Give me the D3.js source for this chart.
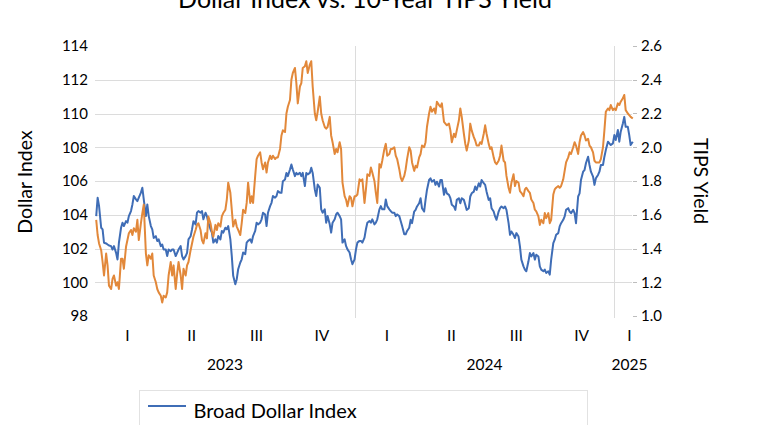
<!DOCTYPE html>
<html>
<head>
<meta charset="utf-8">
<script src="https://cdn.jsdelivr.net/npm/d3@7"></script>
<style>
  body { margin: 0; background: #fff; }
  svg { display: block; }
  text { font-family: Lato, "Open Sans", sans-serif; fill: #000; }
</style>
</head>
<body>
<svg id="chart" width="780" height="425"></svg>
<script>
// ---------------- data ----------------
const chartTitle = "Dollar Index vs. 10-Year TIPS Yield";
const leftAxisTitle = "Dollar Index";
const rightAxisTitle = "TIPS Yield";
const seriesNames = ["Broad Dollar Index", "10-Year TIPS Yield (right)"];

// samples: Mon / Wed / Fri from first to last sample date
const firstSample = "2023-01-02";
const lastSample = "2025-01-27";
const sampleWeekdays = [1, 3, 5];

const dollarIndex = [
  103.92,105.01,104.52,103.23,103.13,102.34,102.30,102.24,102.18,102.14,
  101.94,102.14,101.74,101.35,102.34,103.23,103.53,103.33,103.62,103.53,
  103.92,104.22,104.61,105.11,104.91,104.81,105.01,105.31,105.60,104.91,
  103.92,104.61,103.92,103.33,103.13,102.63,102.73,102.44,102.54,102.14,
  102.24,101.94,101.94,101.55,101.94,101.84,101.94,101.94,101.55,101.74,
  101.94,102.14,101.55,101.35,101.55,101.74,102.54,102.73,103.13,103.62,
  103.43,104.12,
  104.22,104.12,104.22,103.73,104.12,103.92,103.53,103.14,102.94,102.35,
  102.54,102.35,102.74,102.54,103.04,102.94,103.23,103.14,103.33,102.54,
  101.56,100.38,99.88,100.18,100.77,101.17,101.36,101.76,101.66,102.35,
  102.45,102.54,102.35,102.74,103.04,103.53,103.43,103.53,103.73,104.12,
  104.02,103.33,104.12,104.51,104.71,105.11,105.01,105.11,105.40,105.30,
  105.30,105.99,106.09,106.48,106.29,106.68,106.98,106.68,106.29,106.48,
  106.39,106.48,106.29,106.48,
  105.70,106.48,106.39,106.48,106.78,106.48,105.50,105.11,105.79,105.60,
  104.32,104.12,104.32,103.53,103.92,103.43,102.94,103.53,103.73,104.02,
  104.12,103.92,103.73,102.35,102.54,102.15,101.95,101.76,101.36,101.07,
  101.36,101.95,102.35,102.45,102.45,102.35,102.64,103.14,103.53,103.63,
  103.53,103.73,103.43,103.53,103.73,104.32,104.51,104.32,104.32,104.91,
  104.51,104.32,104.22,104.12,104.12,103.92,104.02,103.92,103.63,103.33,
  102.84,102.84,103.04,103.23,
  103.70,103.50,104.19,104.29,104.49,104.68,104.98,104.39,104.19,104.88,
  105.47,106.06,106.16,105.96,106.06,105.77,105.96,105.67,106.06,106.06,
  105.18,105.57,105.27,105.18,104.98,104.59,104.49,104.29,104.88,104.98,
  104.68,104.98,104.88,104.59,104.29,104.39,105.08,105.27,105.37,105.67,
  105.47,105.87,105.67,106.06,105.87,105.77,105.37,104.88,104.98,104.39,
  104.19,103.90,103.70,104.19,104.39,104.49,104.39,104.49,104.29,103.50,
  102.81,103.01,102.81,102.62,
  102.91,102.71,102.12,101.34,100.94,100.75,100.65,101.24,101.73,101.53,
  101.73,101.34,101.63,101.53,100.94,100.75,100.65,100.75,100.55,100.65,
  100.45,101.34,102.32,102.52,102.81,102.91,103.31,103.50,103.70,103.90,
  104.29,104.39,104.19,104.09,104.29,104.09,103.50,105.08,105.27,106.06,
  106.55,106.65,107.05,107.44,106.95,106.55,106.26,105.77,106.16,106.36,
  106.55,106.95,106.95,107.44,107.83,108.33,108.23,108.13,108.23,108.72,
  108.43,109.02,108.33,108.92,109.41,109.80,109.21,109.21,108.72,108.13,
  108.33
];

const tipsYield = [
  1.57,1.48,1.43,1.39,1.32,1.24,1.37,1.30,1.18,1.16,
  1.22,1.24,1.18,1.20,1.16,1.34,1.34,1.28,1.41,1.45,
  1.49,1.51,1.48,1.52,1.50,1.57,1.45,1.55,1.61,1.66,
  1.37,1.30,1.36,1.34,1.37,1.24,1.20,1.16,1.14,1.12,
  1.08,1.12,1.11,1.14,1.24,1.32,1.24,1.30,1.16,1.25,
  1.32,1.24,1.16,1.28,1.24,1.30,1.32,1.39,1.43,1.47,
  1.51,1.54,
  1.55,1.51,1.45,1.43,1.49,1.46,1.59,1.55,1.50,1.47,
  1.54,1.51,1.55,1.53,1.59,1.61,1.63,1.69,1.79,1.73,
  1.63,1.53,1.57,1.53,1.51,1.48,1.55,1.63,1.61,1.67,
  1.79,1.67,1.71,1.67,1.83,1.93,1.95,1.97,1.91,1.87,
  1.91,1.85,1.91,1.95,1.93,1.95,1.93,1.94,1.94,1.99,
  2.07,2.10,2.09,2.20,2.24,2.28,2.40,2.44,2.47,2.38,
  2.26,2.36,2.38,2.47,
  2.48,2.51,2.44,2.49,2.51,2.36,2.20,2.16,2.21,2.30,
  2.20,2.16,2.12,2.11,2.12,2.18,2.07,2.03,1.96,1.99,
  1.97,2.03,1.99,1.79,1.71,1.69,1.65,1.71,1.70,1.65,
  1.71,1.71,1.72,1.81,1.80,1.81,1.67,1.75,1.84,1.83,
  1.88,1.85,1.80,1.73,1.67,1.90,1.88,1.92,1.99,2.02,
  1.95,1.96,1.99,1.99,2.00,1.95,1.93,1.87,1.82,1.80,
  1.83,1.87,1.93,2.00,
  1.98,1.91,1.86,1.89,1.88,1.94,1.96,2.01,2.00,2.03,
  2.12,2.20,2.24,2.21,2.23,2.20,2.27,2.25,2.24,2.26,
  2.15,2.14,2.13,2.14,2.10,2.03,2.08,2.06,2.10,2.16,
  2.23,2.18,2.08,2.02,1.98,2.04,2.14,2.10,2.06,2.04,
  2.01,2.01,2.03,2.02,2.08,2.13,2.08,2.02,1.99,2.00,
  1.94,1.91,1.90,1.92,1.95,2.01,1.92,1.91,1.83,1.76,
  1.73,1.79,1.84,1.77,
  1.80,1.79,1.74,1.73,1.71,1.75,1.76,1.74,1.73,1.69,
  1.67,1.63,1.62,1.59,1.54,1.57,1.55,1.61,1.58,1.61,
  1.55,1.57,1.72,1.75,1.76,1.77,1.76,1.77,1.81,1.86,
  1.91,1.94,1.97,1.96,2.00,2.03,2.01,1.96,2.03,2.07,
  2.09,2.07,2.04,2.05,2.01,2.00,1.97,1.92,1.91,1.91,
  1.91,1.93,2.00,2.10,2.21,2.23,2.22,2.25,2.22,2.23,
  2.22,2.26,2.25,2.27,2.29,2.31,2.22,2.20,2.19,2.18,
  2.17
];

const leftTicks = [98, 100, 102, 104, 106, 108, 110, 112, 114];
const rightTicks = [1.0, 1.2, 1.4, 1.6, 1.8, 2.0, 2.2, 2.4, 2.6];
const leftGridTicks = [100, 102, 104, 106, 108, 110, 112];

const quarterLabels = ["I", "II", "III", "IV", "I", "II", "III", "IV", "I"];
const quarterStarts = ["2023-01-01","2023-04-01","2023-07-01","2023-10-01",
                       "2024-01-01","2024-04-01","2024-07-01","2024-10-01","2025-01-01"];
const yearLabels = ["2023", "2024", "2025"];
const yearStarts = ["2023-01-01", "2024-01-01", "2025-01-01"];
const axisStart = "2023-01-01";
const axisEnd = "2025-01-28";

// ---------------- layout ----------------
const W = 780, H = 425;
const plot = { left: 95.5, right: 633.5, top: 46, bottom: 316 };
const colors = { dollar: "#3F6DB6", tips: "#E2883A", grid: "#DCDCDC", tick: "#BDBDBD" };

const parse = d3.utcParse("%Y-%m-%d");
const svg = d3.select("#chart");

const sampleDates = d3.utcDays(parse(firstSample), d3.utcDay.offset(parse(lastSample), 1))
  .filter(d => sampleWeekdays.includes(d.getUTCDay()));
const n = Math.min(sampleDates.length, dollarIndex.length, tipsYield.length);
const dollarData = d3.range(n).map(i => ({ date: sampleDates[i], v: dollarIndex[i] }));
const tipsData = d3.range(n).map(i => ({ date: sampleDates[i], v: tipsYield[i] }));

const x = d3.scaleUtc().domain([parse(axisStart), parse(axisEnd)]).range([plot.left, plot.right]);
const yL = d3.scaleLinear().domain([98, 114]).range([plot.bottom, plot.top]);
const yR = d3.scaleLinear().domain([1.0, 2.6]).range([plot.bottom, plot.top]);

// gridlines
svg.append("g").selectAll("line").data(leftGridTicks).join("line")
  .attr("x1", plot.left - 0.5).attr("x2", plot.right - 1.5)
  .attr("y1", d => Math.round(yL(d)) + 0.5).attr("y2", d => Math.round(yL(d)) + 0.5)
  .attr("stroke", colors.grid).attr("stroke-width", 1);

// year separators
svg.append("g").selectAll("line").data(yearStarts.slice(1)).join("line")
  .attr("x1", d => Math.round(x(parse(d))) + 0.5).attr("x2", d => Math.round(x(parse(d))) + 0.5)
  .attr("y1", plot.top).attr("y2", plot.bottom + 2)
  .attr("stroke", colors.grid).attr("stroke-width", 1);

// left axis labels
svg.append("g").selectAll("text").data(leftTicks).join("text")
  .attr("x", 88).attr("y", d => yL(d)).attr("dy", "0.36em")
  .attr("text-anchor", "end").style("font-size", "15px")
  .text(d => d);

// right axis ticks + labels
svg.append("g").selectAll("line").data(rightTicks).join("line")
  .attr("x1", plot.right - 0.5).attr("x2", plot.right + 3.5)
  .attr("y1", d => Math.round(yR(d)) + 0.5).attr("y2", d => Math.round(yR(d)) + 0.5)
  .attr("stroke", colors.tick).attr("stroke-width", 1);
svg.append("g").selectAll("text").data(rightTicks).join("text")
  .attr("x", 641).attr("y", d => yR(d)).attr("dy", "0.36em")
  .attr("text-anchor", "start").style("font-size", "15px")
  .text(d => d3.format(".1f")(d));

// x-axis category labels (quarters and years)
const catEnd = x.range()[1] + 11;
function spanCenter(starts, i, nextDefault) {
  const s = x(parse(starts[i]));
  const e = i + 1 < starts.length ? x(parse(starts[i + 1])) : catEnd;
  return (s + Math.min(e, catEnd)) / 2;
}
svg.append("g").selectAll("text").data(quarterLabels).join("text")
  .attr("x", (d, i) => spanCenter(quarterStarts, i))
  .attr("y", 341).attr("text-anchor", "middle").style("font-size", "15.5px")
  .text(d => d);
svg.append("g").selectAll("text").data(yearLabels).join("text")
  .attr("x", (d, i) => spanCenter(yearStarts, i))
  .attr("y", 370).attr("text-anchor", "middle").style("font-size", "15.5px")
  .text(d => d);

// lines
const lineL = d3.line().x(d => x(d.date)).y(d => yL(d.v));
const lineR = d3.line().x(d => x(d.date)).y(d => yR(d.v));
svg.append("path").datum(dollarData).attr("d", lineL)
  .attr("fill", "none").attr("stroke", colors.dollar).attr("stroke-width", 2)
  .attr("stroke-linejoin", "round");
svg.append("path").datum(tipsData).attr("d", lineR)
  .attr("fill", "none").attr("stroke", colors.tips).attr("stroke-width", 2)
  .attr("stroke-linejoin", "round");

// axis titles
svg.append("text").attr("transform", "translate(32,182) rotate(-90)")
  .attr("text-anchor", "middle").style("font-size", "19.5px").text(leftAxisTitle);
svg.append("text").attr("transform", "translate(694,181) rotate(90)")
  .attr("text-anchor", "middle").style("font-size", "19.5px").text(rightAxisTitle);

// title
svg.append("text").attr("x", 365).attr("y", 8).attr("text-anchor", "middle")
  .style("font-size", "25px").text(chartTitle);

// legend
const lg = svg.append("g");
lg.append("rect").attr("x", 139.5).attr("y", 390.5).attr("width", 448).attr("height", 60)
  .attr("fill", "#fff").attr("stroke", "#E2E2E2");
lg.append("line").attr("x1", 148).attr("x2", 186).attr("y1", 406).attr("y2", 406)
  .attr("stroke", colors.dollar).attr("stroke-width", 2);
lg.append("text").attr("x", 193.5).attr("y", 417.5).style("font-size", "20px").text(seriesNames[0]);
</script>
</body>
</html>
